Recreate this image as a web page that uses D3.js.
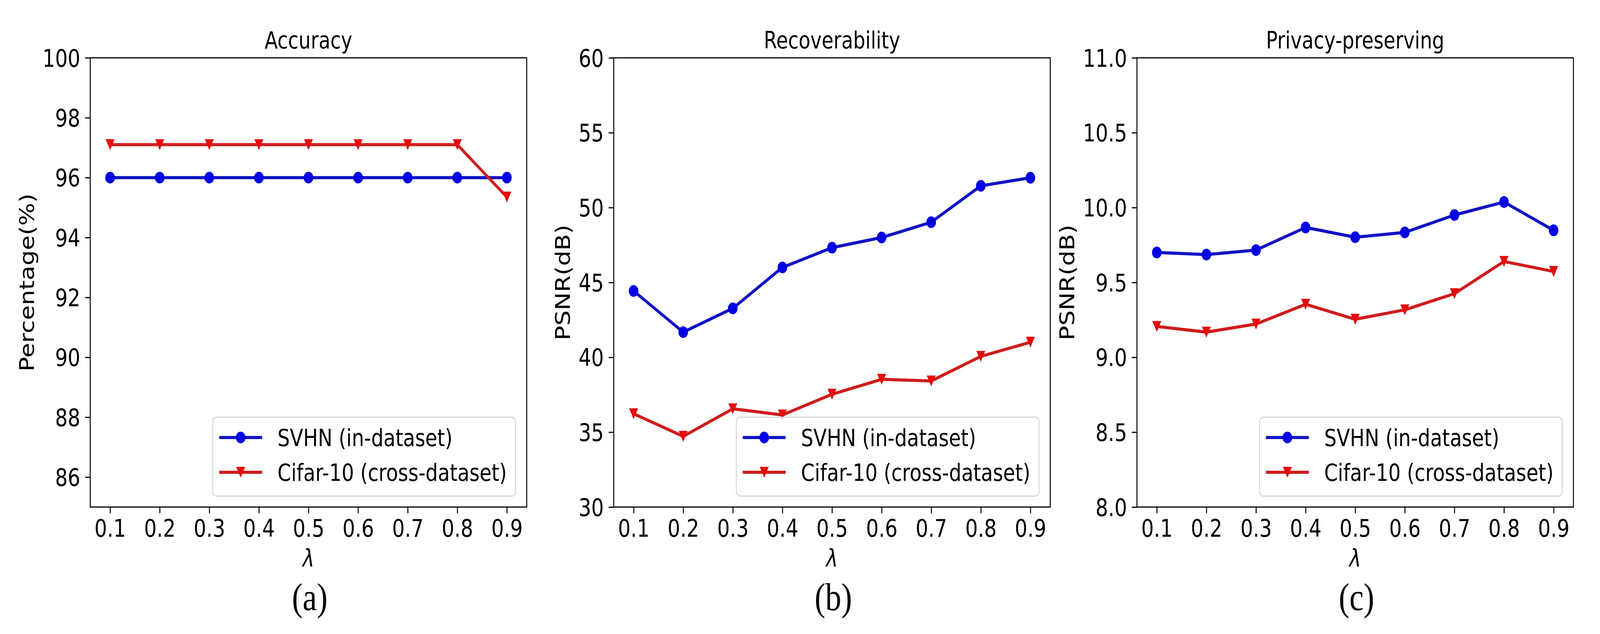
<!DOCTYPE html>
<html>
<head>
<meta charset="utf-8">
<script src="https://cdn.jsdelivr.net/npm/d3@7"></script>
<style>
  html, body { margin: 0; padding: 0; background: #ffffff; overflow: hidden; width: 100%; height: 100%; }
  svg { display: block; width: 100vw; height: 100vh; }
</style>
</head>
<body>
<svg id="chart" viewBox="0 0 5000 1623" preserveAspectRatio="none"></svg>
<script>
// ---------------- data ----------------
const lambdas = [0.1, 0.2, 0.3, 0.4, 0.5, 0.6, 0.7, 0.8, 0.9];
const xTickLabels = ["0.1", "0.2", "0.3", "0.4", "0.5", "0.6", "0.7", "0.8", "0.9"];
const seriesNames = ["SVHN (in-dataset)", "Cifar-10 (cross-dataset)"];

const accuracySVHN  = [96.0, 96.0, 96.0, 96.0, 96.0, 96.0, 96.0, 96.0, 96.0];
const accuracyCifar = [97.1, 97.1, 97.1, 97.1, 97.1, 97.1, 97.1, 97.1, 95.35];

const recoverSVHN  = [44.43, 41.68, 43.27, 46.0, 47.32, 48.0, 49.02, 51.45, 51.99];
const recoverCifar = [36.23, 34.72, 36.56, 36.15, 37.53, 38.53, 38.42, 40.06, 41.01];

const privacySVHN  = [9.70, 9.686, 9.716, 9.867, 9.802, 9.834, 9.950, 10.037, 9.848];
const privacyCifar = [9.206, 9.168, 9.222, 9.354, 9.254, 9.317, 9.425, 9.640, 9.573];

const panelTitles = ["Accuracy", "Recoverability", "Privacy-preserving"];
const yLabels = ["Percentage(%)", "PSNR(dB)", "PSNR(dB)"];
const subLabels = ["(a)", "(b)", "(c)"];
const yDomains = [[85, 100], [30, 60], [8, 11]];
const yTicks = [
  [86, 88, 90, 92, 94, 96, 98, 100],
  [30, 35, 40, 45, 50, 55, 60],
  [8.0, 8.5, 9.0, 9.5, 10.0, 10.5, 11.0]
];
const yTickFormats = ["d", "d", ".1f"];

// ---------------- layout ----------------
const panelLeft = [282, 1918, 3553];
const axW = 1364, axTop = 148, axBottom = 1298;
const tickFont = 62;

const colors = {
  blueLine: "#1212c4", blueMarker: "#0000e4",
  redLine: "#d01c1c", redMarker: "#e60c0c"
};

const svg = d3.select("#chart");
svg.append("rect").attr("width", 5000).attr("height", 1623).attr("fill", "#fff");

const panelData = [
  [accuracySVHN, accuracyCifar],
  [recoverSVHN, recoverCifar],
  [privacySVHN, privacyCifar]
];

function triPath(s) {
  return `M${-s},${-s}L${s},${-s}L0,${s}Z`;
}

panelData.forEach((series, p) => {
  const L = panelLeft[p], R = L + axW;
  const x = d3.scaleLinear().domain([0.06, 0.94]).range([L, R]);
  const y = d3.scaleLinear().domain(yDomains[p]).range([axBottom, axTop]);
  const g = svg.append("g");

  // x axis
  const xAxis = d3.axisBottom(x).tickValues(lambdas)
    .tickFormat((d, i) => xTickLabels[i]).tickSize(16).tickPadding(16);
  const gx = g.append("g").attr("transform", `translate(0,${axBottom})`).call(xAxis);
  gx.select(".domain").remove();
  gx.selectAll(".tick line").attr("stroke", "#000").attr("stroke-width", 3);
  gx.selectAll("text").attr("font-family", "DejaVu Sans").attr("font-size", tickFont).attr("fill", "#000");

  // y axis
  const yAxis = d3.axisLeft(y).tickValues(yTicks[p])
    .tickFormat(d3.format(yTickFormats[p])).tickSize(16).tickPadding(15);
  const gy = g.append("g").attr("transform", `translate(${L},0)`).call(yAxis);
  gy.select(".domain").remove();
  gy.selectAll(".tick line").attr("stroke", "#000").attr("stroke-width", 3);
  gy.selectAll("text").attr("font-family", "DejaVu Sans").attr("font-size", tickFont)
    .attr("fill", "#000").attr("dy", "0.36em");

  // series lines + markers
  const lineGen = d3.line().x((d, i) => x(lambdas[i])).y(d => y(d));
  const defs = [
    { vals: series[0], line: colors.blueLine, marker: colors.blueMarker, type: "circle" },
    { vals: series[1], line: colors.redLine, marker: colors.redMarker, type: "tri" }
  ];
  defs.forEach(s => {
    g.append("path").datum(s.vals).attr("d", lineGen)
      .attr("fill", "none").attr("stroke", s.line).attr("stroke-width", 8)
      .attr("stroke-linejoin", "round").attr("stroke-linecap", "square");
  });
  defs.forEach(s => {
    if (s.type === "circle") {
      g.selectAll(null).data(s.vals).enter().append("circle")
        .attr("cx", (d, i) => x(lambdas[i])).attr("cy", d => y(d)).attr("r", 15)
        .attr("fill", s.marker);
    } else {
      g.selectAll(null).data(s.vals).enter().append("path")
        .attr("d", triPath(14))
        .attr("transform", (d, i) => `translate(${x(lambdas[i])},${y(d)})`)
        .attr("fill", s.marker);
    }
  });

  // spines
  g.append("rect").attr("x", L).attr("y", axTop).attr("width", axW).attr("height", axBottom - axTop)
    .attr("fill", "none").attr("stroke", "#000").attr("stroke-width", 3);

  // title
  g.append("text").attr("x", (L + R) / 2).attr("y", 124).attr("text-anchor", "middle")
    .attr("font-family", "DejaVu Sans").attr("font-size", 60).attr("fill", "#000")
    .text(panelTitles[p]);

  // y label (placed left of the widest tick label)
  let maxW = 0;
  gy.selectAll("text").each(function () {
    maxW = Math.max(maxW, this.getComputedTextLength());
  });
  const ylx = L - 16 - 15 - maxW - 27;
  g.append("text").attr("transform", `translate(${ylx},${(axTop + axBottom) / 2}) rotate(-90)`)
    .attr("text-anchor", "middle").attr("font-family", "DejaVu Sans").attr("font-size", tickFont)
    .attr("fill", "#000").text(yLabels[p]);

  // x label
  g.append("text").attr("x", (L + R) / 2).attr("y", 1450).attr("text-anchor", "middle")
    .attr("font-family", "DejaVu Sans").attr("font-style", "italic").attr("font-size", tickFont)
    .attr("fill", "#000").text("\u03BB");

  // sub label
  g.append("text").attr("x", (L + R) / 2 + 4).attr("y", 1562).attr("text-anchor", "middle")
    .attr("font-family", "Liberation Serif").attr("font-size", 100).attr("fill", "#000")
    .text(subLabels[p]);

  // legend
  const lg = g.append("g");
  const box = lg.append("rect");
  const texts = seriesNames.map((name, i) => lg.append("text")
    .attr("font-family", "DejaVu Sans").attr("font-size", 61).attr("fill", "#000")
    .attr("dy", "0.36em").text(name));
  const tw = d3.max(texts, t => t.node().getComputedTextLength());
  const boxW = 202 + tw + 27;
  const boxR = R - 35, boxL = boxR - boxW, boxT = 1068, boxB = 1270;
  box.attr("x", boxL).attr("y", boxT).attr("width", boxW).attr("height", boxB - boxT)
    .attr("rx", 12).attr("ry", 12).attr("fill", "#fff").attr("fill-opacity", 0.8)
    .attr("stroke", "#d6d6d6").attr("stroke-width", 3);
  const rows = [boxT + 52, boxT + 141];
  texts.forEach((t, i) => t.attr("x", boxL + 202).attr("y", rows[i]));
  defs.forEach((s, i) => {
    lg.append("line").attr("x1", boxL + 20).attr("x2", boxL + 154)
      .attr("y1", rows[i]).attr("y2", rows[i]).attr("stroke", s.line).attr("stroke-width", 8);
    if (s.type === "circle") {
      lg.append("circle").attr("cx", boxL + 87).attr("cy", rows[i]).attr("r", 15).attr("fill", s.marker);
    } else {
      lg.append("path").attr("d", triPath(14))
        .attr("transform", `translate(${boxL + 87},${rows[i]})`).attr("fill", s.marker);
    }
  });
});
</script>
</body>
</html>
